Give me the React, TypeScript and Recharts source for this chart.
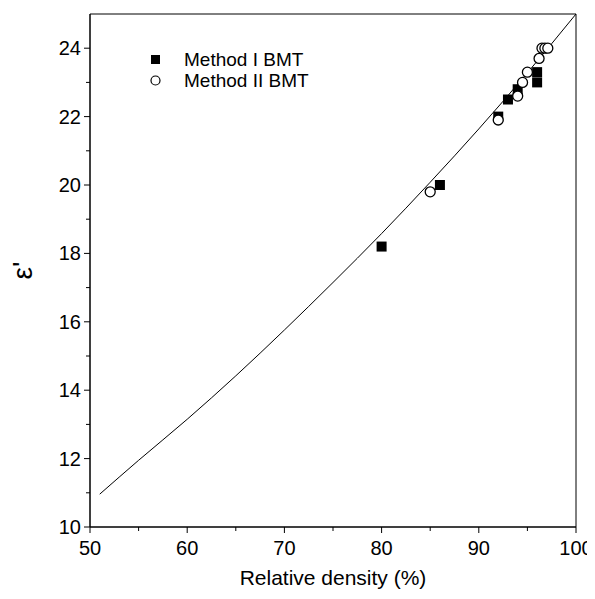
import {
  ComposedChart,
  Line,
  Scatter,
  XAxis,
  YAxis,
  ReferenceArea,
  Label,
} from "recharts";

const INK = "#000000";
const FONT = '"Liberation Sans", Arial, sans-serif';

// axis ticks (majors carry labels, odd ones are minor)
const X_TICKS = [50, 55, 60, 65, 70, 75, 80, 85, 90, 95, 100];
const X_LABELED = [50, 60, 70, 80, 90, 100];
const Y_TICKS = [10, 11, 12, 13, 14, 15, 16, 17, 18, 19, 20, 21, 22, 23, 24];
const Y_LABELED = [10, 12, 14, 16, 18, 20, 22, 24];

// fitted curve
const FIT_DENSITY = [51, 55, 60, 65, 70, 75, 80, 85, 90, 95, 100];
const FIT_EPS = [10.96, 11.95, 13.15, 14.42, 15.76, 17.15, 18.58, 20.08, 21.64, 23.28, 25.0];

// Method I BMT (filled squares)
const M1_DENSITY = [80, 86, 92, 93, 94, 96, 96];
const M1_EPS = [18.2, 20.0, 22.0, 22.5, 22.8, 23.0, 23.3];

// Method II BMT (open circles)
const M2_DENSITY = [85, 92, 94, 94.5, 95, 96.2, 96.5, 96.8, 97.1];
const M2_EPS = [19.8, 21.9, 22.6, 23.0, 23.3, 23.7, 24.0, 24.0, 24.0];

const SERIES_NAMES = ["Method I BMT", "Method II BMT"];

const fit = FIT_DENSITY.map((x, i) => ({ x, y: FIT_EPS[i] }));
const m1 = M1_DENSITY.map((x, i) => ({ x, y: M1_EPS[i] }));
const m2 = M2_DENSITY.map((x, i) => ({ x, y: M2_EPS[i] }));

const Square = (p: any) => (
  <rect x={p.cx - 5} y={p.cy - 5} width={10} height={10} fill={INK} />
);
const Circle = (p: any) => (
  <circle cx={p.cx} cy={p.cy} r={5} fill="#fff" stroke={INK} strokeWidth={1.3} />
);

const XTick = (p: any) => {
  const v = p.payload.value;
  const major = X_LABELED.includes(v);
  return (
    <g>
      <line x1={p.x} x2={p.x} y1={p.y} y2={p.y + (major ? 6 : 4)} stroke={INK} />
      {major && (
        <text x={p.x} y={p.y + 28} textAnchor="middle" fontSize={20} fontFamily={FONT} fill={INK}>
          {v}
        </text>
      )}
    </g>
  );
};

const YTick = (p: any) => {
  const v = p.payload.value;
  const major = Y_LABELED.includes(v);
  return (
    <g>
      <line x1={p.x} x2={p.x - (major ? 6 : 4)} y1={p.y} y2={p.y} stroke={INK} />
      {major && (
        <text x={p.x - 9} y={p.y + 7} textAnchor="end" fontSize={20} fontFamily={FONT} fill={INK}>
          {v}
        </text>
      )}
    </g>
  );
};

function LegendBox() {
  return (
    <div
      style={{
        position: "absolute",
        left: 140,
        top: 41,
        fontFamily: FONT,
        fontSize: 19,
        color: INK,
        lineHeight: "21px",
      }}
    >
      {SERIES_NAMES.map((name, i) => (
        <div key={name} style={{ display: "flex", alignItems: "center" }}>
          <svg width={36} height={21}>
            {i === 0 ? (
              <rect x={3} y={6} width={9} height={9} fill={INK} />
            ) : (
              <circle cx={7.5} cy={10.5} r={4.5} fill="#fff" stroke={INK} strokeWidth={1.2} />
            )}
          </svg>
          <span>{name}</span>
        </div>
      ))}
    </div>
  );
}

export default function App() {
  return (
    <div style={{ position: "relative", width: 587, height: 585 }}>
      <ComposedChart
        width={587}
        height={585}
        margin={{ top: 6, right: 19, bottom: 6, left: 0 }}
      >
        <XAxis
          type="number"
          dataKey="x"
          domain={[50, 100]}
          ticks={X_TICKS}
          interval={0}
          allowDataOverflow
          stroke={INK}
          tickSize={0}
          tickMargin={0}
          tickLine={false}
          tick={<XTick />}
          height={60}
        >
          <Label
            value="Relative density (%)"
            position="insideBottom"
            offset={2}
            fontSize={21}
            fontFamily={FONT}
            fill={INK}
          />
        </XAxis>
        <YAxis
          type="number"
          dataKey="y"
          domain={[10, 25]}
          ticks={Y_TICKS}
          interval={0}
          allowDataOverflow
          stroke={INK}
          tickSize={0}
          tickMargin={0}
          tickLine={false}
          tick={<YTick />}
          width={82}
        >
          <Label
            content={(p: any) => {
              const vb = p.viewBox;
              const cx = 14;
              const cy = vb.y + vb.height / 2;
              return (
                <text
                  x={cx}
                  y={cy}
                  transform={`rotate(-90, ${cx}, ${cy})`}
                  textAnchor="middle"
                  dominantBaseline="central"
                  fontSize={28}
                  fontFamily={FONT}
                  fill={INK}
                >
                  ε'
                </text>
              );
            }}
          />
        </YAxis>
        <ReferenceArea x1={50} x2={100} y1={10} y2={25} fill="none" stroke={INK} strokeWidth={1} />
        <Scatter name={SERIES_NAMES[0]} data={m1} shape={Square} isAnimationActive={false} />
        <Scatter name={SERIES_NAMES[1]} data={m2} shape={Circle} isAnimationActive={false} />
        <Line
          data={fit}
          dataKey="y"
          type="monotone"
          stroke={INK}
          strokeWidth={1}
          dot={false}
          isAnimationActive={false}
        />
      </ComposedChart>
      <LegendBox />
    </div>
  );
}
